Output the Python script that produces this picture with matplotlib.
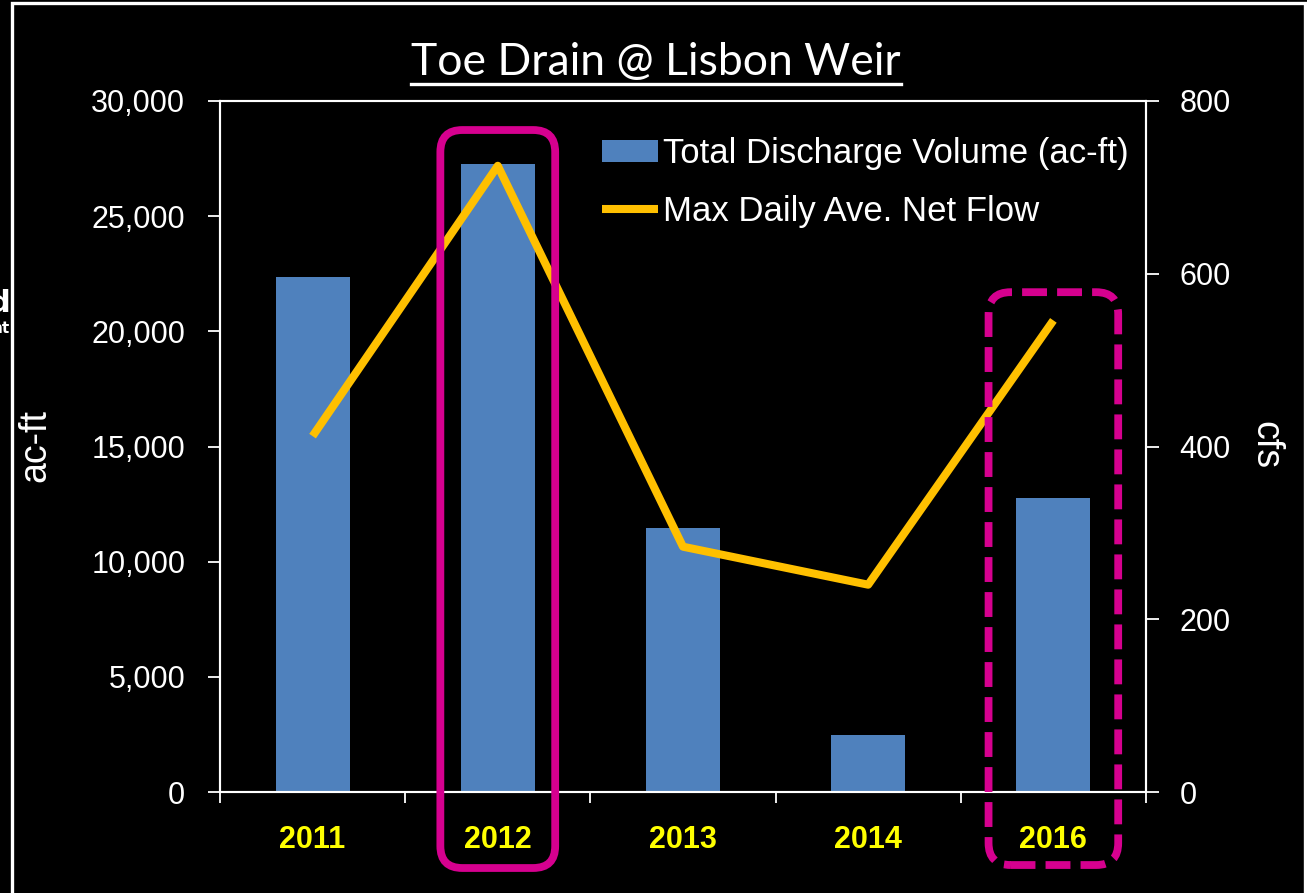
import matplotlib
matplotlib.use("Agg")
import matplotlib.pyplot as plt
import numpy as np
from matplotlib.patches import FancyBboxPatch, Rectangle
from matplotlib.transforms import IdentityTransform
from matplotlib.lines import Line2D
from matplotlib.ticker import FuncFormatter, FixedLocator

# ── Data ──────────────────────────────────────────────────────
years = ["2011", "2012", "2013", "2014", "2016"]
volume_acft = [22350, 27270, 11450, 2470, 12770]     # bars, left axis
max_flow_cfs = [412, 725, 284, 240, 546]             # line, right axis

SANS = ["Liberation Sans", "DejaVu Sans"]
BAR_COLOR = "#4F81BD"
LINE_COLOR = "#FFC000"
MAGENTA = "#D6008F"

fig = plt.figure(figsize=(13.07, 8.93), dpi=100, facecolor="black")
ax = fig.add_axes([0.1683, 0.1131, 0.7085, 0.7738], facecolor="black")
ax2 = ax.twinx()

x = np.arange(len(years))
bars = ax.bar(x, volume_acft, width=0.4, color=BAR_COLOR, zorder=2,
              label="Total Discharge Volume (ac-ft)")
line, = ax2.plot(x, max_flow_cfs, color=LINE_COLOR, lw=5.8,
                 solid_joinstyle="round", solid_capstyle="butt", zorder=3,
                 label="Max Daily Ave. Net Flow")

ax.set_xlim(-0.5, len(years) - 0.5)
ax.set_ylim(0, 30000)
ax.set_yticks(np.arange(0, 30001, 5000))
ax.yaxis.set_major_formatter(FuncFormatter(lambda v, p: f"{int(v):,}"))
ax2.set_ylim(0, 800)
ax2.set_yticks(np.arange(0, 801, 200))

# category boundaries as ticks, year labels on minor ticks at centres
ax.xaxis.set_major_locator(FixedLocator(np.arange(-0.5, len(years), 1.0)))
ax.xaxis.set_minor_locator(FixedLocator(x))
ax.set_xticklabels([])
ax.set_xticklabels(years, minor=True)
ax.tick_params(axis="x", which="major", direction="out", length=8,
               width=1.3, color="white")
ax.tick_params(axis="x", which="minor", length=0, pad=24,
               labelcolor="#FFFF00", labelsize=22)
for lbl in ax.get_xticklabels(minor=True):
    lbl.set_family(SANS)
    lbl.set_fontweight("bold")

ax.tick_params(axis="y", direction="out", length=9, width=1.3,
               color="white", labelcolor="white", labelsize=22, pad=16)
ax2.tick_params(axis="y", direction="out", length=9, width=1.3,
                color="white", labelcolor="white", labelsize=22, pad=15)
for lbl in ax.get_yticklabels() + ax2.get_yticklabels():
    lbl.set_family(SANS)

for a in (ax, ax2):
    for sp in a.spines.values():
        sp.set_color("white")
        sp.set_linewidth(1.5)

# axis titles placed where the reference has them
fig.text(35 / 1307, 1 - 445 / 893, "ac-ft", color="white", fontsize=27,
         family=SANS, rotation=90, ha="center", va="center")
fig.text(1265 / 1307, 1 - 445 / 893, "cfs", color="white", fontsize=27,
         family=SANS, rotation=270, ha="center", va="center")

leg = ax2.legend(handles=[bars, line], loc="upper left",
                 bbox_to_anchor=(0.413, 0.948), frameon=False,
                 prop={"family": SANS, "size": 25}, labelcolor="white",
                 handlelength=1.6, handleheight=0.6, handletextpad=0.15,
                 labelspacing=0.72, borderpad=0, borderaxespad=0)

# title with underline
title = fig.text(0.502, 0.93, "Toe Drain @ Lisbon Weir", color="white",
                 fontsize=32, family=["Lato", "DejaVu Sans"],
                 ha="center", va="center")

# outer white frame of the slide
fig.add_artist(Rectangle((0.0092, -0.05), 0.9893, 1.0466,
                         transform=fig.transFigure, fill=False,
                         edgecolor="white", lw=2.4))

# clipped text fragments at the far left edge
fig.text(0.008, 0.66, "d", color="white", fontsize=22, fontweight="bold",
         ha="right", va="center")
fig.text(0.008, 0.632, "nt", color="white", fontsize=11, fontweight="bold",
         ha="right", va="center")

fig.canvas.draw()
renderer = fig.canvas.get_renderer()

bb = title.get_window_extent(renderer)
fig.add_artist(Line2D([bb.x0, bb.x1], [bb.y0 - 1, bb.y0 - 1],
                      transform=IdentityTransform(), color="white", lw=2.4))


# magenta highlight boxes around 2012 and 2016
def highlight(idx, half_w, y_top, y_bot, style):
    (x0, y0) = ax.transData.transform((idx - half_w, y_bot))
    (x1, y1) = ax.transData.transform((idx + half_w, y_top))
    box = FancyBboxPatch((x0, y0), x1 - x0, y1 - y0,
                         boxstyle="round,pad=0,rounding_size=22",
                         transform=IdentityTransform(), fill=False,
                         edgecolor=MAGENTA, lw=5.6, linestyle=style,
                         zorder=10)
    fig.add_artist(box)


highlight(years.index("2012"), 0.31, 28740, -3300, "-")
highlight(years.index("2016"), 0.35, 21700, -3170, (0, (3.2, 1.3)))

fig.savefig("out.png", dpi=100, facecolor="black")
